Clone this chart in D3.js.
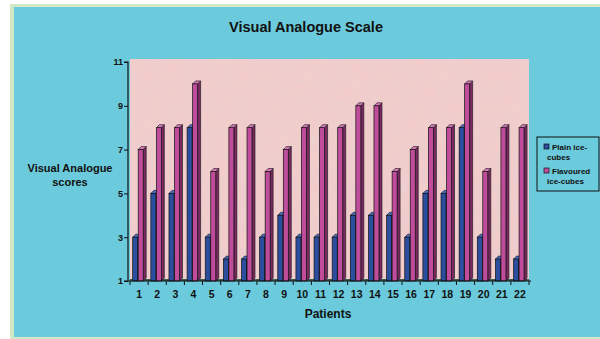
<!DOCTYPE html>
<html>
<head>
<meta charset="utf-8">
<script src="https://cdn.jsdelivr.net/npm/d3@7"></script>
<style>
  body { margin: 0; background: #ffffff; }
  text { font-family: "Liberation Sans", Arial, sans-serif; font-weight: bold; fill: #111; }
</style>
</head>
<body>
<div id="chart"></div>
<script>
const patients = ["1","2","3","4","5","6","7","8","9","10","11","12","13","14","15","16","17","18","19","20","21","22"];
const plainScores = [3,5,5,8,3,2,2,3,4,3,3,3,4,4,4,3,5,5,8,3,2,2];
const flavouredScores = [7,8,8,10,6,8,8,6,7,8,8,8,9,9,6,7,8,8,10,6,8,8];
const yTicks = [1,3,5,7,9,11];
const seriesNames = ["Plain ice-cubes", "Flavoured ice-cubes"];

const W = 600, H = 339;
const plot = { left: 130, right: 529, top: 62, bottom: 281 };
const depth = 3;

const svg = d3.select("#chart").append("svg")
    .attr("width", W)
    .attr("height", H);

// paper texture for the plot background
const defs = svg.append("defs");
const filt = defs.append("filter").attr("id", "paper")
    .attr("x", 0).attr("y", 0).attr("width", "100%").attr("height", "100%");
filt.append("feTurbulence").attr("type", "fractalNoise")
    .attr("baseFrequency", 0.06).attr("numOctaves", 3).attr("seed", 4).attr("result", "noise");
filt.append("feColorMatrix").attr("in", "noise").attr("type", "matrix")
    .attr("values", "0 0 0 0 0.80  0 0 0 0 0.64  0 0 0 0 0.66  0 0 0 0.7 -0.2").attr("result", "tint");
filt.append("feComposite").attr("in", "tint").attr("in2", "SourceGraphic").attr("operator", "over");

// frame and panel
svg.append("rect").attr("x", 10).attr("y", 4).attr("width", W - 10).attr("height", H - 4)
    .attr("fill", "#d3e8c6");
svg.append("rect").attr("x", 14).attr("y", 7).attr("width", W - 14).attr("height", 330)
    .attr("fill", "#6bcadb");

const xScale = d3.scaleBand()
    .domain(patients)
    .range([plot.left, plot.right])
    .paddingInner(0)
    .paddingOuter(0);

const yScale = d3.scaleLinear()
    .domain([1, 11])
    .range([plot.bottom, plot.top]);

// plot background
svg.append("rect")
    .attr("x", plot.left).attr("y", plot.top - 3)
    .attr("width", plot.right - plot.left).attr("height", plot.bottom - plot.top + 3)
    .attr("fill", "#f2cccb")
    .attr("filter", "url(#paper)");

// floor
svg.append("rect")
    .attr("x", plot.left).attr("y", plot.bottom - 2)
    .attr("width", plot.right - plot.left).attr("height", 2)
    .attr("fill", "#3d5f55");

const barW = 5;
const series = [
    { values: plainScores, front: "#2b4f9e", side: "#1a3470", top: "#4a6fc0", offset: 2.7 },
    { values: flavouredScores, front: "#c04c9c", side: "#7a2a62", top: "#d778ba", offset: 8.2 }
];

series.forEach(s => {
    const g = svg.append("g");
    patients.forEach((p, i) => {
        const x0 = xScale(p) + s.offset;
        const yTop = yScale(s.values[i]);
        const yBase = yScale(1);
        // side face
        g.append("path")
            .attr("d", `M${x0 + barW},${yTop} L${x0 + barW + depth},${yTop - depth} L${x0 + barW + depth},${yBase - depth} L${x0 + barW},${yBase} Z`)
            .attr("fill", s.side).attr("stroke", "#111").attr("stroke-width", 0.6);
        // top face
        g.append("path")
            .attr("d", `M${x0},${yTop} L${x0 + depth},${yTop - depth} L${x0 + barW + depth},${yTop - depth} L${x0 + barW},${yTop} Z`)
            .attr("fill", s.top).attr("stroke", "#111").attr("stroke-width", 0.6);
        // front face
        g.append("rect")
            .attr("x", x0).attr("y", yTop)
            .attr("width", barW).attr("height", yBase - yTop)
            .attr("fill", s.front).attr("stroke", "#111").attr("stroke-width", 0.7);
    });
});

// y axis
const yAxis = d3.axisLeft(yScale).tickValues(yTicks).tickSize(4).tickFormat(d3.format("d"));
const yG = svg.append("g").attr("transform", `translate(${plot.left - 2},0)`).call(yAxis);
yG.select(".domain").attr("stroke", "#111").attr("stroke-width", 1.2)
    .attr("d", `M-4,${plot.top}H0V${plot.bottom}H-4`);
yG.selectAll("text").style("font-size", "9px").attr("dx", 2);
yG.selectAll("line").attr("stroke", "#111");

// x axis
const xG = svg.append("g").attr("transform", `translate(0,${plot.bottom})`);
xG.append("line").attr("x1", plot.left - 2).attr("x2", plot.right + 2)
    .attr("y1", 0).attr("y2", 0).attr("stroke", "#111").attr("stroke-width", 1.2);
xG.selectAll(".tk").data(patients.concat(["end"])).join("line")
    .attr("class", "tk")
    .attr("x1", (d, i) => plot.left + i * xScale.bandwidth())
    .attr("x2", (d, i) => plot.left + i * xScale.bandwidth())
    .attr("y1", 0).attr("y2", 4)
    .attr("stroke", "#111");
xG.selectAll(".lbl").data(patients).join("text")
    .attr("class", "lbl")
    .attr("x", d => xScale(d) + xScale.bandwidth() / 2)
    .attr("y", 17)
    .attr("text-anchor", "middle")
    .style("font-size", "10.5px")
    .text(d => d);

// titles
svg.append("text").attr("x", 306).attr("y", 32).attr("text-anchor", "middle")
    .style("font-size", "14.5px").text("Visual Analogue Scale");
svg.append("text").attr("x", 328).attr("y", 318).attr("text-anchor", "middle")
    .style("font-size", "12px").text("Patients");
const yt = svg.append("text").attr("x", 70).attr("y", 172).attr("text-anchor", "middle")
    .style("font-size", "11px");
yt.append("tspan").attr("x", 70).text("Visual Analogue");
yt.append("tspan").attr("x", 70).attr("dy", 14).text("scores");

// legend
const legend = svg.append("g").attr("transform", "translate(537,137)");
legend.append("rect").attr("width", 62).attr("height", 54)
    .attr("fill", "none").attr("stroke", "#111").attr("stroke-width", 1);
const legendLines = [["Plain ice-", "cubes"], ["Flavoured", "ice-cubes"]];
legendLines.forEach((lines, i) => {
    const gy = 9 + i * 24;
    legend.append("rect").attr("x", 7).attr("y", gy - 2).attr("width", 5).attr("height", 5)
        .attr("fill", series[i].front).attr("stroke", "#111").attr("stroke-width", 0.7);
    lines.forEach((t, j) => {
        legend.append("text")
            .attr("x", j === 0 ? 15 : 10).attr("y", gy + 4 + j * 10)
            .style("font-size", "8px")
            .text(t);
    });
});
</script>
</body>
</html>
